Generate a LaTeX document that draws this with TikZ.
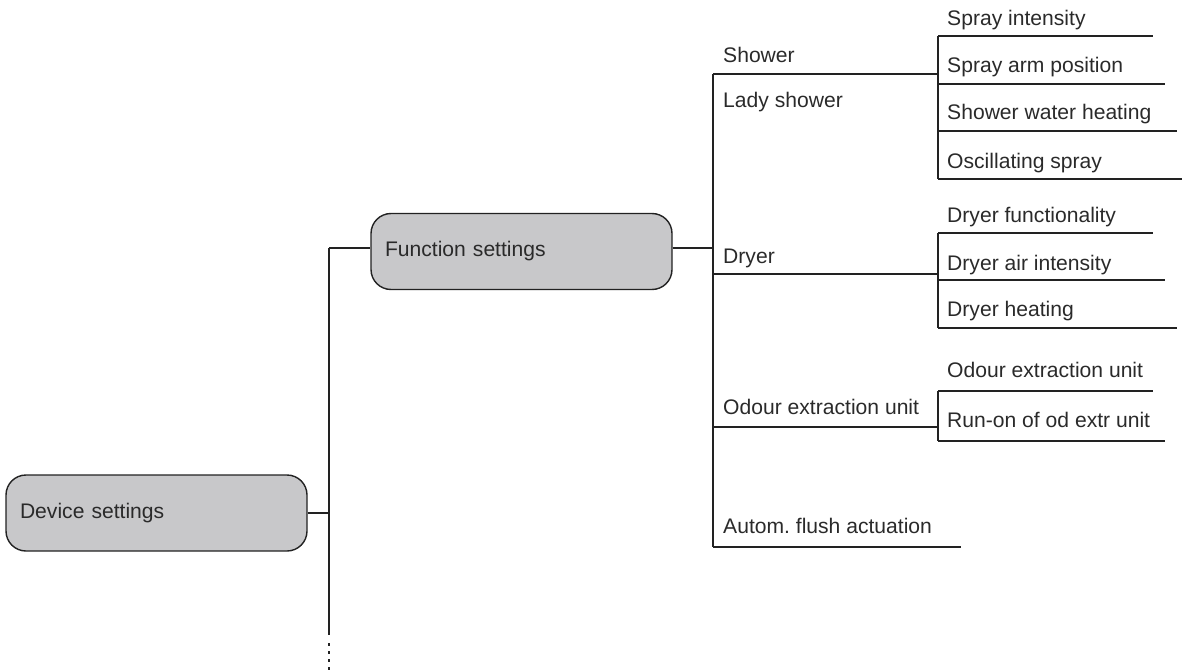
\documentclass[tikz,border=0pt]{standalone}
\usepackage{fontspec}
\setmainfont{Liberation Sans}
\frenchspacing
\definecolor{boxfill}{HTML}{C8C8CA}
\definecolor{ink}{HTML}{222222}
\definecolor{txt}{HTML}{2A2A2A}
\begin{document}
\begin{tikzpicture}[x=1pt,y=-1pt,
  font=\fontsize{21.1}{24}\selectfont,
  menubox/.style={draw=ink, line width=1.4pt, fill=boxfill, rounded corners=20pt,
    minimum height=76pt, text width=273pt, inner xsep=14pt, align=left, text=txt},
  lbl/.style={anchor=base west, inner sep=0pt, text=txt},
  conn/.style={draw=ink, line width=1.4pt}]
\useasboundingbox (0,0) rectangle (1182,671);

% main boxes
\node[menubox] (dev) at (156.5,513) {Device settings};
\node[menubox] (fs) at (521.5,251.5) {Function settings};

% level 1 connectors
\coordinate (v1top) at (329,248);
\coordinate (v1mid) at (329,513);
\coordinate (v1bot) at (329,635);
\coordinate (v1end) at (329,671);
\draw[conn] (dev.east |- v1mid) -- (v1mid);
\draw[conn] (v1top) -- (v1bot);
\draw[conn, dash pattern=on 3pt off 5pt] (329,643) -- (v1end);
\draw[conn] (v1top) -- (fs.west |- v1top);

% level 2
\coordinate (v2top) at (713,74);
\coordinate (v2fs) at (713,248);
\coordinate (v2bot) at (713,547);
\draw[conn] (fs.east |- v2fs) -- (v2fs);
\draw[conn] (v2top) -- (v2bot);

\node[lbl] (shower) at (723,63) {Shower};
\node[lbl] (lady) at (723,108) {Lady shower};
\node[lbl] (dryer) at (723,263) {Dryer};
\node[lbl] (odour) at (723,414) {Odour extraction unit};
\node[lbl] (flush) at (723,533) {Autom. flush actuation};

\coordinate (g1) at (938,74);
\coordinate (g2) at (938,274);
\coordinate (g3) at (938,427);
\coordinate (flushend) at (961,547);
\draw[conn] (v2top) -- (g1);
\draw[conn] (v2top |- g2) -- (g2);
\draw[conn] (v2top |- g3) -- (g3);
\draw[conn] (v2bot) -- (flushend);

% level 3 : shower group
\coordinate (s1) at (938,36);  \coordinate (s1e) at (1153,36);
\coordinate (s2) at (938,84);  \coordinate (s2e) at (1165,84);
\coordinate (s3) at (938,131); \coordinate (s3e) at (1177,131);
\coordinate (s4) at (938,179); \coordinate (s4e) at (1182,179);
\draw[conn] (s1) -- (s4);
\draw[conn] (s1) -- (s1e);
\draw[conn] (s2) -- (s2e);
\draw[conn] (s3) -- (s3e);
\draw[conn] (s4) -- (s4e);
\node[lbl] (sprayint) at (947,26) {Spray intensity};
\node[lbl] (sprayarm) at (947,73) {Spray arm position};
\node[lbl] (swheat) at (947,120) {Shower water heating};
\node[lbl] (oscil) at (947,168) {Oscillating spray};

% level 3 : dryer group
\coordinate (d1) at (938,233); \coordinate (d1e) at (1153,233);
\coordinate (d2) at (938,280); \coordinate (d2e) at (1165,280);
\coordinate (d3) at (938,328); \coordinate (d3e) at (1177,328);
\draw[conn] (d1) -- (d3);
\draw[conn] (d1) -- (d1e);
\draw[conn] (d2) -- (d2e);
\draw[conn] (d3) -- (d3e);
\node[lbl] (dfunc) at (947,222) {Dryer functionality};
\node[lbl] (dair) at (947,270) {Dryer air intensity};
\node[lbl] (dheat) at (947,316) {Dryer heating};

% level 3 : odour group
\coordinate (o1) at (938,391); \coordinate (o1e) at (1153,391);
\coordinate (o2) at (938,441); \coordinate (o2e) at (1165,441);
\draw[conn] (o1) -- (o2);
\draw[conn] (o1) -- (o1e);
\draw[conn] (o2) -- (o2e);
\node[lbl] (ounit) at (947,377) {Odour extraction unit};
\node[lbl] (orun) at (947,427) {Run-on of od extr unit};
\end{tikzpicture}
\end{document}
